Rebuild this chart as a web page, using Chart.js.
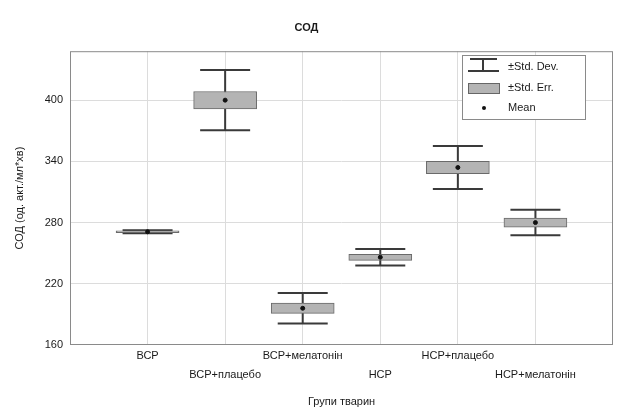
<!DOCTYPE html>
<html>
<head>
<meta charset="utf-8">
<script src="https://cdn.jsdelivr.net/npm/chart.js@4/dist/chart.umd.min.js"></script>
<style>
  html, body { margin: 0; padding: 0; background: #fff; }
  #wrap { width: 618px; height: 412px; }
</style>
</head>
<body>
<div id="wrap"><canvas id="chart" width="618" height="412"></canvas></div>
<script>
// groups and values
const categories = ['ВСР', 'ВСР+плацебо', 'ВСР+мелатонін', 'НСР', 'НСР+плацебо', 'НСР+мелатонін'];
const means = [271, 400, 196, 246, 334, 280];
const stdErr = [0.8, 8.5, 5, 3, 6, 4.5];
const stdDev = [1.5, 29.5, 15, 8, 21, 12.5];
const yTicks = [160, 220, 280, 340, 400];
const legendLabels = ['±Std. Dev.', '±Std. Err.', 'Mean'];

const FONT = 'Liberation Sans, Arial, sans-serif';
const TEXT = '#1a1a1a';

const seBoxes = categories.map((c, i) => ({ x: i, y: [means[i] - stdErr[i], means[i] + stdErr[i]] }));
const meanPts = categories.map((c, i) => ({ x: i, y: means[i] }));

// whiskers, frame and legend drawn through the chart scales
const extras = {
  id: 'extras',
  beforeDatasetsDraw(chart) {
    const { ctx, scales: { x, y } } = chart;
    ctx.save();
    ctx.strokeStyle = '#3a3a3a';
    ctx.lineWidth = 2;
    categories.forEach((c, i) => {
      const px = x.getPixelForValue(i);
      const top = y.getPixelForValue(means[i] + stdDev[i]);
      const bot = y.getPixelForValue(means[i] - stdDev[i]);
      ctx.beginPath();
      ctx.moveTo(px, top); ctx.lineTo(px, bot);
      ctx.moveTo(px - 25, top); ctx.lineTo(px + 25, top);
      ctx.moveTo(px - 25, bot); ctx.lineTo(px + 25, bot);
      ctx.stroke();
    });
    ctx.restore();
  },
  afterDraw(chart) {
    const { ctx, chartArea: a } = chart;
    ctx.save();
    ctx.strokeStyle = '#8a8a8a';
    ctx.lineWidth = 1;
    ctx.strokeRect(a.left + 0.5, a.top + 0.5, a.right - a.left - 1, a.bottom - a.top - 1);

    // legend
    const lx = 462, ly = 55, lw = 123, lh = 64;
    ctx.fillStyle = '#fff';
    ctx.fillRect(lx, ly, lw, lh);
    ctx.strokeStyle = '#8a8a8a';
    ctx.strokeRect(lx + 0.5, ly + 0.5, lw, lh);
    ctx.strokeStyle = '#3a3a3a';
    ctx.lineWidth = 2;
    ctx.beginPath();
    ctx.moveTo(470, 59); ctx.lineTo(497, 59);
    ctx.moveTo(483, 59); ctx.lineTo(483, 71);
    ctx.moveTo(468, 71); ctx.lineTo(499, 71);
    ctx.stroke();
    ctx.fillStyle = '#b4b4b4';
    ctx.fillRect(468, 83, 32, 11);
    ctx.lineWidth = 1;
    ctx.strokeStyle = '#666';
    ctx.strokeRect(468.5, 83.5, 31, 10);
    ctx.fillStyle = '#111';
    ctx.beginPath();
    ctx.arc(484, 108, 2, 0, Math.PI * 2);
    ctx.fill();
    ctx.fillStyle = TEXT;
    ctx.font = '11px ' + FONT;
    ctx.textBaseline = 'middle';
    legendLabels.forEach((t, i) => ctx.fillText(t, 508, [67, 88, 108][i]));
    ctx.restore();
  }
};

new Chart(document.getElementById('chart'), {
  type: 'bar',
  data: {
    datasets: [
      {
        type: 'bar',
        data: seBoxes,
        backgroundColor: '#b4b4b4',
        borderColor: '#6a6a6a',
        borderWidth: 1,
        borderSkipped: false,
        barThickness: 63,
        order: 2
      },
      {
        type: 'scatter',
        data: meanPts,
        pointStyle: 'circle',
        pointRadius: 2,
        backgroundColor: '#111',
        borderColor: '#111',
        order: 1
      }
    ]
  },
  options: {
    responsive: false,
    animation: false,
    layout: { padding: { left: 0, right: 5, top: 0, bottom: 0 } },
    plugins: {
      legend: { display: false },
      tooltip: { enabled: false },
      title: {
        display: true,
        text: 'СОД',
        color: TEXT,
        font: { family: FONT, size: 11, weight: 'bold' },
        padding: { top: 21, bottom: 17 }
      }
    },
    scales: {
      x: {
        type: 'linear',
        min: -1,
        max: 6,
        offset: false,
        afterFit: s => { s.height = 67; },
        ticks: {
          stepSize: 1,
          autoSkip: false,
          maxRotation: 0,
          padding: 2,
          color: TEXT,
          font: { family: FONT, size: 11, lineHeight: 1.7 },
          callback: v => {
            const lbl = categories[v];
            if (lbl === undefined) return '';
            return v % 2 === 0 ? [lbl, ''] : ['', lbl];
          }
        },
        grid: {
          offset: false,
          drawTicks: false,
          color: ctx => (ctx.tick && ctx.tick.value >= 0 && ctx.tick.value <= 5) ? '#dcdcdc' : 'rgba(0,0,0,0)'
        },
        border: { display: false },
        title: {
          display: true,
          text: 'Групи тварин',
          color: TEXT,
          font: { family: FONT, size: 11 },
          padding: { top: 0, bottom: 3 }
        }
      },
      y: {
        min: 160,
        max: 448,
        afterFit: s => { s.width = 70; },
        afterBuildTicks: s => { s.ticks = yTicks.map(v => ({ value: v })); },
        ticks: {
          padding: 7,
          color: TEXT,
          font: { family: FONT, size: 11 }
        },
        grid: {
          drawTicks: false,
          color: ctx => (ctx.tick && ctx.tick.value > 160) ? '#dcdcdc' : 'rgba(0,0,0,0)'
        },
        border: { display: false },
        title: {
          display: true,
          text: 'СОД (од. акт./мл*хв)',
          color: TEXT,
          font: { family: FONT, size: 11 },
          padding: { top: 13, bottom: 0 }
        }
      }
    }
  },
  plugins: [extras]
});
</script>
</body>
</html>
